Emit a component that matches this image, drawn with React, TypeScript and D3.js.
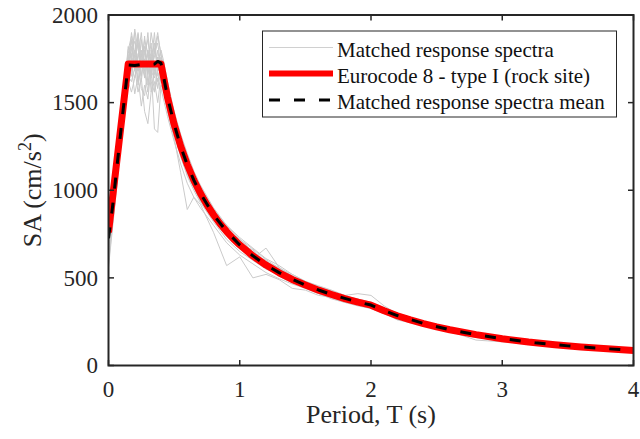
import React from "react";
import * as d3 from "d3";

// Period grid of the matched spectra (s)
const PERIODS = [0, 0.03, 0.06, 0.09, 0.12, 0.15, 0.175, 0.2, 0.225, 0.25, 0.275, 0.3, 0.325, 0.35, 0.375, 0.4, 0.425, 0.45, 0.5, 0.55, 0.6, 0.65, 0.7, 0.8, 0.9, 1.0, 1.1, 1.2, 1.3, 1.4, 1.5, 1.6, 1.7, 1.8, 1.9, 2.0, 2.1, 2.2, 2.4, 2.6, 2.8, 3.0, 3.25, 3.5, 3.75, 4.0];

const SPECTRUM_1 = [720, 900, 1150, 1380, 1600, 1780, 1850, 1700, 1890, 1760, 1820, 1690, 1900, 1780, 1840, 1700, 1650, 1500, 1400, 1230, 1120, 1080, 990, 880, 770, 700, 640, 600, 540, 500, 470, 440, 420, 390, 380, 350, 320, 290, 240, 205, 180, 155, 132, 114, 99, 87];
const SPECTRUM_2 = [560, 780, 1000, 1250, 1450, 1600, 1700, 1550, 1650, 1480, 1600, 1520, 1700, 1350, 1330, 1600, 1560, 1450, 1300, 1100, 890, 960, 920, 760, 570, 620, 500, 520, 490, 440, 430, 400, 390, 360, 350, 330, 300, 275, 230, 190, 160, 140, 125, 108, 95, 84];
const SPECTRUM_3 = [680, 880, 1120, 1330, 1560, 1700, 1820, 1750, 1680, 1860, 1700, 1780, 1650, 1810, 1700, 1760, 1600, 1560, 1420, 1280, 1180, 1070, 1000, 850, 780, 690, 660, 590, 560, 510, 460, 445, 410, 400, 410, 400, 340, 295, 245, 210, 178, 156, 131, 113, 99, 86];
const SPECTRUM_4 = [750, 920, 1080, 1290, 1500, 1740, 1650, 1800, 1720, 1650, 1880, 1600, 1750, 1680, 1760, 1650, 1580, 1540, 1350, 1260, 1150, 1040, 970, 870, 750, 680, 610, 670, 560, 480, 450, 420, 400, 370, 355, 340, 300, 265, 250, 200, 170, 150, 128, 111, 97, 85];
const SPECTRUM_5 = [620, 840, 1060, 1310, 1530, 1680, 1760, 1900, 1600, 1720, 1650, 1800, 1560, 1700, 1620, 1720, 1640, 1520, 1360, 1230, 1100, 1020, 940, 840, 740, 700, 630, 560, 510, 470, 455, 425, 395, 375, 370, 350, 305, 270, 225, 195, 145, 135, 126, 110, 97, 86];
const SPECTRUM_6 = [700, 910, 1120, 1320, 1520, 1760, 1700, 1640, 1780, 1700, 1750, 1680, 1720, 1900, 1650, 1700, 1660, 1530, 1390, 1270, 1160, 1060, 1010, 870, 790, 710, 640, 580, 540, 500, 470, 440, 420, 385, 365, 345, 315, 290, 240, 205, 178, 154, 131, 113, 98, 87];
const SPECTRUM_7 = [660, 860, 1090, 1300, 1510, 1720, 1780, 1680, 1760, 1900, 1680, 1560, 1800, 1720, 1580, 1690, 1620, 1510, 1370, 1240, 1130, 1050, 960, 850, 760, 680, 620, 560, 530, 495, 465, 435, 410, 380, 360, 350, 320, 280, 235, 200, 173, 152, 129, 112, 98, 86];
const SPECTRUM_8 = [740, 930, 1140, 1360, 1580, 1800, 1880, 1760, 1840, 1700, 1780, 1860, 1700, 1760, 1880, 1780, 1680, 1560, 1400, 1270, 1170, 1080, 990, 880, 780, 720, 650, 590, 550, 510, 465, 440, 415, 390, 370, 355, 320, 290, 245, 208, 180, 156, 133, 114, 99, 87];
const SPECTRUM_9 = [600, 820, 1050, 1280, 1500, 1650, 1620, 1700, 1560, 1640, 1450, 1380, 1560, 1620, 1500, 1650, 1600, 1480, 1340, 1200, 1080, 1000, 930, 820, 720, 650, 600, 550, 520, 480, 450, 420, 385, 365, 345, 330, 300, 260, 228, 195, 168, 148, 127, 110, 96, 85];
const SPECTRUM_10 = [700, 890, 1110, 1340, 1550, 1710, 1800, 1850, 1700, 1780, 1720, 1900, 1680, 1640, 1760, 1740, 1640, 1540, 1380, 1260, 1140, 1070, 980, 860, 770, 690, 630, 575, 545, 505, 475, 430, 405, 385, 360, 345, 310, 285, 238, 204, 176, 153, 130, 112, 98, 86];
const SPECTRUM_11 = [640, 850, 1070, 1290, 1490, 1690, 1900, 1780, 1860, 1620, 1800, 1720, 1840, 1560, 1720, 1800, 1720, 1620, 1450, 1320, 1210, 1110, 1030, 900, 800, 730, 670, 610, 570, 520, 480, 455, 430, 400, 375, 360, 330, 300, 250, 212, 182, 158, 134, 115, 100, 88];
const SPECTRUM_12 = [580, 800, 1020, 1240, 1460, 1620, 1560, 1640, 1720, 1580, 1540, 1700, 1620, 1560, 1640, 1580, 1500, 1420, 1280, 1150, 1040, 960, 900, 800, 700, 630, 580, 530, 495, 465, 440, 410, 380, 360, 340, 325, 295, 268, 232, 198, 170, 148, 126, 109, 96, 84];
const SPECTRUM_13 = [710, 905, 1130, 1350, 1570, 1820, 1740, 1920, 1800, 1740, 1860, 1780, 1640, 1800, 1900, 1760, 1700, 1590, 1430, 1300, 1190, 1090, 1020, 890, 800, 720, 665, 605, 555, 520, 480, 450, 425, 395, 380, 360, 325, 295, 248, 210, 181, 157, 133, 115, 100, 88];
const SPECTRUM_14 = [690, 880, 1090, 1320, 1540, 1700, 1680, 1740, 1620, 1800, 1640, 1740, 1780, 1660, 1800, 1680, 1560, 1480, 1330, 1190, 1090, 1010, 940, 830, 740, 670, 615, 565, 520, 485, 450, 425, 400, 378, 358, 340, 308, 280, 236, 202, 175, 152, 129, 111, 97, 85];
const SPECTRUM_15 = [650, 870, 1080, 1300, 1520, 1740, 1860, 1700, 1900, 1720, 1680, 1800, 1720, 1840, 1680, 1720, 1680, 1580, 1410, 1290, 1170, 1090, 1000, 880, 790, 700, 650, 590, 545, 505, 470, 445, 410, 390, 370, 352, 316, 287, 242, 206, 177, 155, 131, 113, 98, 86];
const SPECTRUM_16 = [730, 910, 1100, 1330, 1560, 1760, 1820, 1720, 1680, 1760, 1820, 1660, 1760, 1720, 1740, 1700, 1620, 1550, 1390, 1250, 1150, 1040, 960, 850, 750, 690, 640, 580, 535, 500, 462, 432, 402, 385, 363, 346, 318, 288, 238, 203, 177, 154, 130, 112, 98, 86];

const MATCHED_SPECTRA = [SPECTRUM_1, SPECTRUM_2, SPECTRUM_3, SPECTRUM_4, SPECTRUM_5, SPECTRUM_6, SPECTRUM_7, SPECTRUM_8, SPECTRUM_9, SPECTRUM_10, SPECTRUM_11, SPECTRUM_12, SPECTRUM_13, SPECTRUM_14, SPECTRUM_15, SPECTRUM_16];

// Mean of matched spectra
const MEAN_T = [0, 0.03, 0.06, 0.09, 0.12, 0.15, 0.2, 0.25, 0.3, 0.35, 0.375, 0.4, 0.45, 0.5, 0.55, 0.6, 0.65, 0.7, 0.8, 0.9, 1.0, 1.1, 1.2, 1.3, 1.4, 1.5, 1.6, 1.7, 1.8, 1.9, 2.0, 2.1, 2.2, 2.4, 2.6, 2.8, 3.0, 3.25, 3.5, 3.75, 4.0];
const MEAN_SA = [726, 900, 1105, 1310, 1515, 1715, 1712, 1718, 1715, 1720, 1735, 1725, 1530, 1378, 1250, 1145, 1058, 982, 860, 765, 688, 626, 573, 530, 492, 459, 431, 405, 383, 362, 345, 313, 285, 240, 204, 176, 153, 130, 112, 98, 86];

// Eurocode 8 type I target spectrum (rock site)
const EC8_T = [0, 0.15, 0.4, 0.45, 0.5, 0.55, 0.6, 0.65, 0.7, 0.75, 0.8, 0.85, 0.9, 0.95, 1.0, 1.1, 1.2, 1.3, 1.4, 1.5, 1.6, 1.7, 1.8, 1.9, 2.0, 2.1, 2.2, 2.3, 2.4, 2.5, 2.6, 2.8, 3.0, 3.2, 3.4, 3.6, 3.8, 4.0];
const EC8_SA = [760, 1720, 1720, 1529, 1376, 1251, 1147, 1058, 983, 917, 860, 809, 764, 724, 688, 625, 573, 529, 491, 459, 430, 405, 382, 362, 344, 312, 284, 260, 239, 220, 204, 176, 153, 134, 119, 106, 95, 86];

const X_TICKS = [0, 1, 2, 3, 4];
const Y_TICKS = [0, 500, 1000, 1500, 2000];

const LEGEND_LABELS = ["Matched response spectra", "Eurocode 8 - type I (rock site)", "Matched response spectra mean"];

export default function App() {
  const W = 640;
  const H = 439;
  const L = 108.5, R = 633.5, T = 15, B = 365.5;
  const x = d3.scaleLinear().domain([0, 4]).range([L, R]);
  const y = d3.scaleLinear().domain([0, 2000]).range([B, T]);
  const line = d3
    .line<[number, number]>()
    .x((d) => x(d[0]))
    .y((d) => y(d[1]));

  const axisColor = "#262626";
  const font = "'Liberation Serif', 'Times New Roman', serif";
  const tick = 5.5;

  const grayPaths = MATCHED_SPECTRA.map((s) => line(PERIODS.map((t, i) => [t, s[i]] as [number, number])) || "");
  const ec8Path = line(EC8_T.map((t, i) => [t, EC8_SA[i]] as [number, number])) || "";
  const meanPath = line(MEAN_T.map((t, i) => [t, MEAN_SA[i]] as [number, number])) || "";

  const legX = 262.5, legY = 31, legW = 354, legH = 86;
  const rowBase = [56.5, 82.5, 108.5];

  return (
    <svg
      width={W}
      height={H}
      style={{ position: "absolute", left: 0, top: 0, display: "block", background: "#fff" }}
      fontFamily={font}
    >
      <rect x={0} y={0} width={W} height={H} fill="#fff" />
      <defs>
        <clipPath id="plotclip">
          <rect x={L} y={T} width={R - L} height={B - T} />
        </clipPath>
      </defs>
      <g clipPath="url(#plotclip)">
        {grayPaths.map((p, i) => (
          <path key={i} d={p} fill="none" stroke="#cacaca" strokeWidth={1} strokeLinejoin="round" />
        ))}
        <path d={ec8Path} fill="none" stroke="#ff0000" strokeWidth={7} strokeLinejoin="round" />
        <path d={meanPath} fill="none" stroke="#000" strokeWidth={3} strokeDasharray="11,14" strokeLinejoin="round" />
      </g>

      {/* frame */}
      <rect x={L} y={T} width={R - L} height={B - T} fill="none" stroke={axisColor} strokeWidth={2} />
      {X_TICKS.map((v) => (
        <g key={"x" + v}>
          <line x1={x(v)} x2={x(v)} y1={B} y2={B - tick} stroke={axisColor} strokeWidth={1.5} />
          <line x1={x(v)} x2={x(v)} y1={T} y2={T + tick} stroke={axisColor} strokeWidth={1.5} />
          <text x={x(v)} y={396.5} textAnchor="middle" fontSize={23} fill={axisColor}>
            {v}
          </text>
        </g>
      ))}
      {Y_TICKS.map((v) => (
        <g key={"y" + v}>
          <line x1={L} x2={L + tick} y1={y(v)} y2={y(v)} stroke={axisColor} strokeWidth={1.5} />
          <line x1={R} x2={R - tick} y1={y(v)} y2={y(v)} stroke={axisColor} strokeWidth={1.5} />
          <text x={98} y={y(v)} dy="0.34em" textAnchor="end" fontSize={23} fill={axisColor}>
            {v}
          </text>
        </g>
      ))}

      <text x={(L + R) / 2} y={423} textAnchor="middle" fontSize={26} fill={axisColor}>
        Period, T (s)
      </text>
      <text transform={`translate(41,${(T + B) / 2}) rotate(-90)`} textAnchor="middle" fontSize={26} fill={axisColor}>
        SA (cm/s<tspan dy={-10} fontSize={18}>2</tspan><tspan dy={10}>)</tspan>
      </text>

      {/* legend */}
      <rect x={legX} y={legY} width={legW} height={legH} fill="#fff" stroke={axisColor} strokeWidth={1} />
      <line x1={269} x2={333} y1={rowBase[0] - 9} y2={rowBase[0] - 9} stroke="#d0d0d0" strokeWidth={1.2} />
      <line x1={269} x2={333} y1={rowBase[1] - 9} y2={rowBase[1] - 9} stroke="#ff0000" strokeWidth={6} />
      <line x1={269} x2={333} y1={rowBase[2] - 8.5} y2={rowBase[2] - 8.5} stroke="#000" strokeWidth={3} strokeDasharray="11,14" />
      {LEGEND_LABELS.map((lab, i) => (
        <text key={lab} x={337} y={rowBase[i]} fontSize={21} fill="#111">
          {lab}
        </text>
      ))}
    </svg>
  );
}
